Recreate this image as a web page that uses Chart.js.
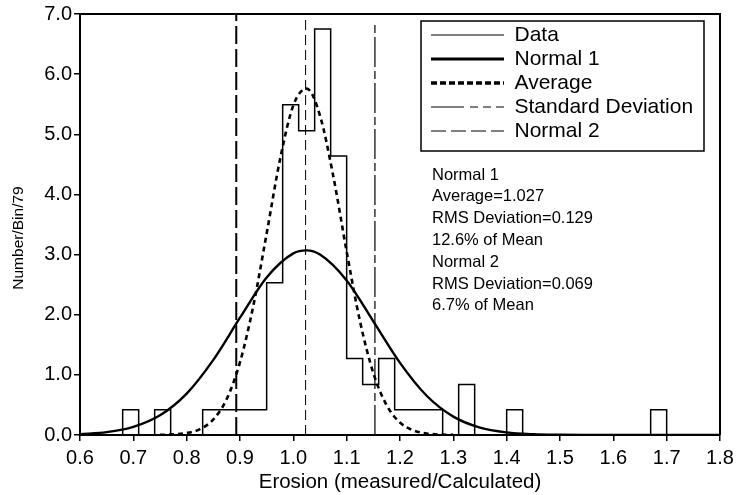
<!DOCTYPE html>
<html>
<head>
<meta charset="utf-8">
<script src="https://cdn.jsdelivr.net/npm/chart.js@4.4.1/dist/chart.umd.min.js"></script>
<style>
  html, body { margin: 0; padding: 0; background: #fff; }
</style>
</head>
<body>
<canvas id="erosionChart" width="740" height="495"></canvas>
<script>
// histogram outline: each edge holds its height until the next edge
const binEdges = [0.60, 0.68, 0.71, 0.74, 0.77, 0.83, 0.95, 0.98, 1.01, 1.04, 1.07, 1.10, 1.13, 1.16, 1.19, 1.28, 1.31, 1.34, 1.40, 1.43, 1.67, 1.70, 1.80];
const binHeights = [0, 0.42, 0, 0.42, 0, 0.42, 2.53, 5.49, 5.06, 6.75, 4.64, 1.27, 0.84, 1.27, 0.42, 0, 0.84, 0, 0.42, 0, 0.42, 0, 0];

// wide normal curve (solid)
const normal1X = [0.60, 0.65, 0.70, 0.75, 0.80, 0.85, 0.90, 0.95, 1.00, 1.025, 1.05, 1.10, 1.15, 1.20, 1.25, 1.30, 1.35, 1.40, 1.45, 1.50, 1.55, 1.80];
const normal1Y = [0.014, 0.047, 0.134, 0.327, 0.689, 1.25, 1.95, 2.62, 3.02, 3.07, 3.00, 2.57, 1.89, 1.20, 0.653, 0.306, 0.123, 0.043, 0.013, 0.003, 0, 0];

// narrow normal curve (dotted)
const normal2X = [0.75, 0.775, 0.80, 0.825, 0.85, 0.875, 0.90, 0.925, 0.95, 0.975, 1.00, 1.025, 1.05, 1.075, 1.10, 1.125, 1.15, 1.175, 1.20, 1.225, 1.25, 1.275, 1.30];
const normal2Y = [0.002, 0.01, 0.033, 0.098, 0.258, 0.597, 1.21, 2.15, 3.35, 4.58, 5.48, 5.76, 5.31, 4.30, 3.05, 1.89, 1.03, 0.494, 0.207, 0.076, 0.025, 0.007, 0.002];

// vertical marker lines: [x, top]
const averageLine = [1.023, 7.0];
const sdLeftLine = [0.893, 7.0];
const sdRightLine = [1.153, 6.85];

const xTicks = [0.6, 0.7, 0.8, 0.9, 1.0, 1.1, 1.2, 1.3, 1.4, 1.5, 1.6, 1.7, 1.8];
const yTicks = [0, 1, 2, 3, 4, 5, 6, 7];

const legendNames = ['Data', 'Normal 1', 'Average', 'Standard Deviation', 'Normal 2'];
const noteLines = ['Normal 1', 'Average=1.027', 'RMS Deviation=0.129', '12.6% of Mean', 'Normal 2', 'RMS Deviation=0.069', '6.7% of Mean'];
const yTitle = 'Number/Bin/79';

const FONT = '"Liberation Sans", Arial, Helvetica, sans-serif';
Chart.defaults.font.family = FONT;
Chart.defaults.color = '#000';

const toPoints = (xs, ys) => xs.map((x, i) => ({ x: x, y: ys[i] }));
const vLine = (l) => [{ x: l[0], y: 0 }, { x: l[0], y: l[1] }];

// legend samples as they look in the printed key
const legendStyles = [
  { lineWidth: 1, lineDash: [] },
  { lineWidth: 3, lineDash: [] },
  { lineWidth: 3.5, lineDash: [6, 3] },
  { lineWidth: 1.2, lineDash: [33, 6, 8, 5, 8, 5] },
  { lineWidth: 1.2, lineDash: [15, 5] }
];

const frameAndNotes = {
  id: 'frameAndNotes',
  afterLayout(chart) {
    const lg = chart.legend;
    lg.left = 428;
    lg.right = 704;
    lg.top = 21.5;
  },
  afterDraw(chart) {
    const { ctx, chartArea } = chart;
    ctx.save();
    ctx.strokeStyle = '#000';
    ctx.lineWidth = 2;
    ctx.beginPath();
    ctx.moveTo(chartArea.left, chartArea.top);
    ctx.lineTo(chartArea.right, chartArea.top);
    ctx.lineTo(chartArea.right, chartArea.bottom);
    ctx.stroke();
    // legend frame
    ctx.lineWidth = 1.5;
    ctx.strokeRect(421, 21, 283, 130);
    // fit summary
    ctx.fillStyle = '#000';
    ctx.font = '16.5px ' + FONT;
    ctx.textBaseline = 'middle';
    ctx.textAlign = 'left';
    noteLines.forEach((t, i) => ctx.fillText(t, 432, 175 + i * 21.8));
    // y axis title, rotated
    ctx.translate(19, 238);
    ctx.rotate(-Math.PI / 2);
    ctx.textAlign = 'center';
    ctx.font = '15.5px ' + FONT;
    ctx.fillText(yTitle, 0, 0);
    ctx.restore();
  }
};

const ctx = document.getElementById('erosionChart').getContext('2d');
new Chart(ctx, {
  type: 'line',
  data: {
    datasets: [
      {
        label: 'Data',
        data: toPoints(binEdges, binHeights),
        stepped: 'before',
        borderColor: '#000',
        borderWidth: 1.5,
        pointRadius: 0,
        fill: false
      },
      {
        label: 'Normal 1',
        data: toPoints(normal1X, normal1Y),
        borderColor: '#000',
        borderWidth: 2.4,
        cubicInterpolationMode: 'monotone',
        pointRadius: 0,
        fill: false
      },
      {
        label: 'Normal 2',
        data: toPoints(normal2X, normal2Y),
        borderColor: '#000',
        borderWidth: 2.6,
        borderDash: [5, 4],
        cubicInterpolationMode: 'monotone',
        pointRadius: 0,
        fill: false
      },
      {
        label: 'Average',
        data: vLine(averageLine),
        borderColor: '#000',
        borderWidth: 1,
        borderDash: [10, 5],
        pointRadius: 0,
        fill: false
      },
      {
        label: 'Standard Deviation',
        data: vLine(sdRightLine),
        borderColor: '#000',
        borderWidth: 1.2,
        borderDash: [30, 4, 8, 4],
        pointRadius: 0,
        fill: false
      },
      {
        label: 'Standard Deviation (low)',
        data: vLine(sdLeftLine),
        borderColor: '#000',
        borderWidth: 2,
        borderDash: [18, 5],
        pointRadius: 0,
        fill: false
      }
    ]
  },
  options: {
    responsive: false,
    animation: false,
    devicePixelRatio: 1,
    layout: { padding: { top: 14, right: 20, left: 0, bottom: 0 } },
    plugins: {
      tooltip: { enabled: false },
      legend: {
        position: 'chartArea',
        fullSize: false,
        align: 'start',
        labels: {
          usePointStyle: true,
          pointStyle: 'line',
          pointStyleWidth: 73,
          padding: 3,
          color: '#000',
          font: { size: 21, family: FONT },
          generateLabels: () => legendNames.map((name, i) => ({
            text: name,
            fillStyle: '#000',
            strokeStyle: '#000',
            lineWidth: legendStyles[i].lineWidth,
            lineDash: legendStyles[i].lineDash,
            pointStyle: 'line',
            hidden: false,
            datasetIndex: i
          }))
        }
      }
    },
    scales: {
      x: {
        type: 'linear',
        min: 0.6,
        max: 1.8,
        afterBuildTicks: (s) => { s.ticks = xTicks.map(v => ({ value: v })); },
        afterFit: (s) => { s.height = 60; },
        ticks: {
          autoSkip: false,
          maxRotation: 0,
          padding: 5,
          color: '#000',
          font: { size: 20 },
          callback: (v) => Number(v).toFixed(1)
        },
        grid: { drawOnChartArea: false, drawTicks: true, tickLength: 6, color: '#000', lineWidth: 1.5 },
        border: { display: true, color: '#000', width: 2 },
        title: {
          display: true,
          text: 'Erosion (measured/Calculated)',
          color: '#000',
          font: { size: 20.5 },
          padding: { top: 0, bottom: 0 }
        }
      },
      y: {
        type: 'linear',
        min: 0,
        max: 7,
        afterBuildTicks: (s) => { s.ticks = yTicks.map(v => ({ value: v })); },
        afterFit: (s) => { s.width = 80; },
        ticks: {
          padding: 2,
          color: '#000',
          font: { size: 20 },
          callback: (v) => Number(v).toFixed(1)
        },
        grid: { drawOnChartArea: false, drawTicks: true, tickLength: 6, color: '#000', lineWidth: 1.5 },
        border: { display: true, color: '#000', width: 2 },
        title: { display: false }
      }
    }
  },
  plugins: [frameAndNotes]
});
</script>
</body>
</html>
